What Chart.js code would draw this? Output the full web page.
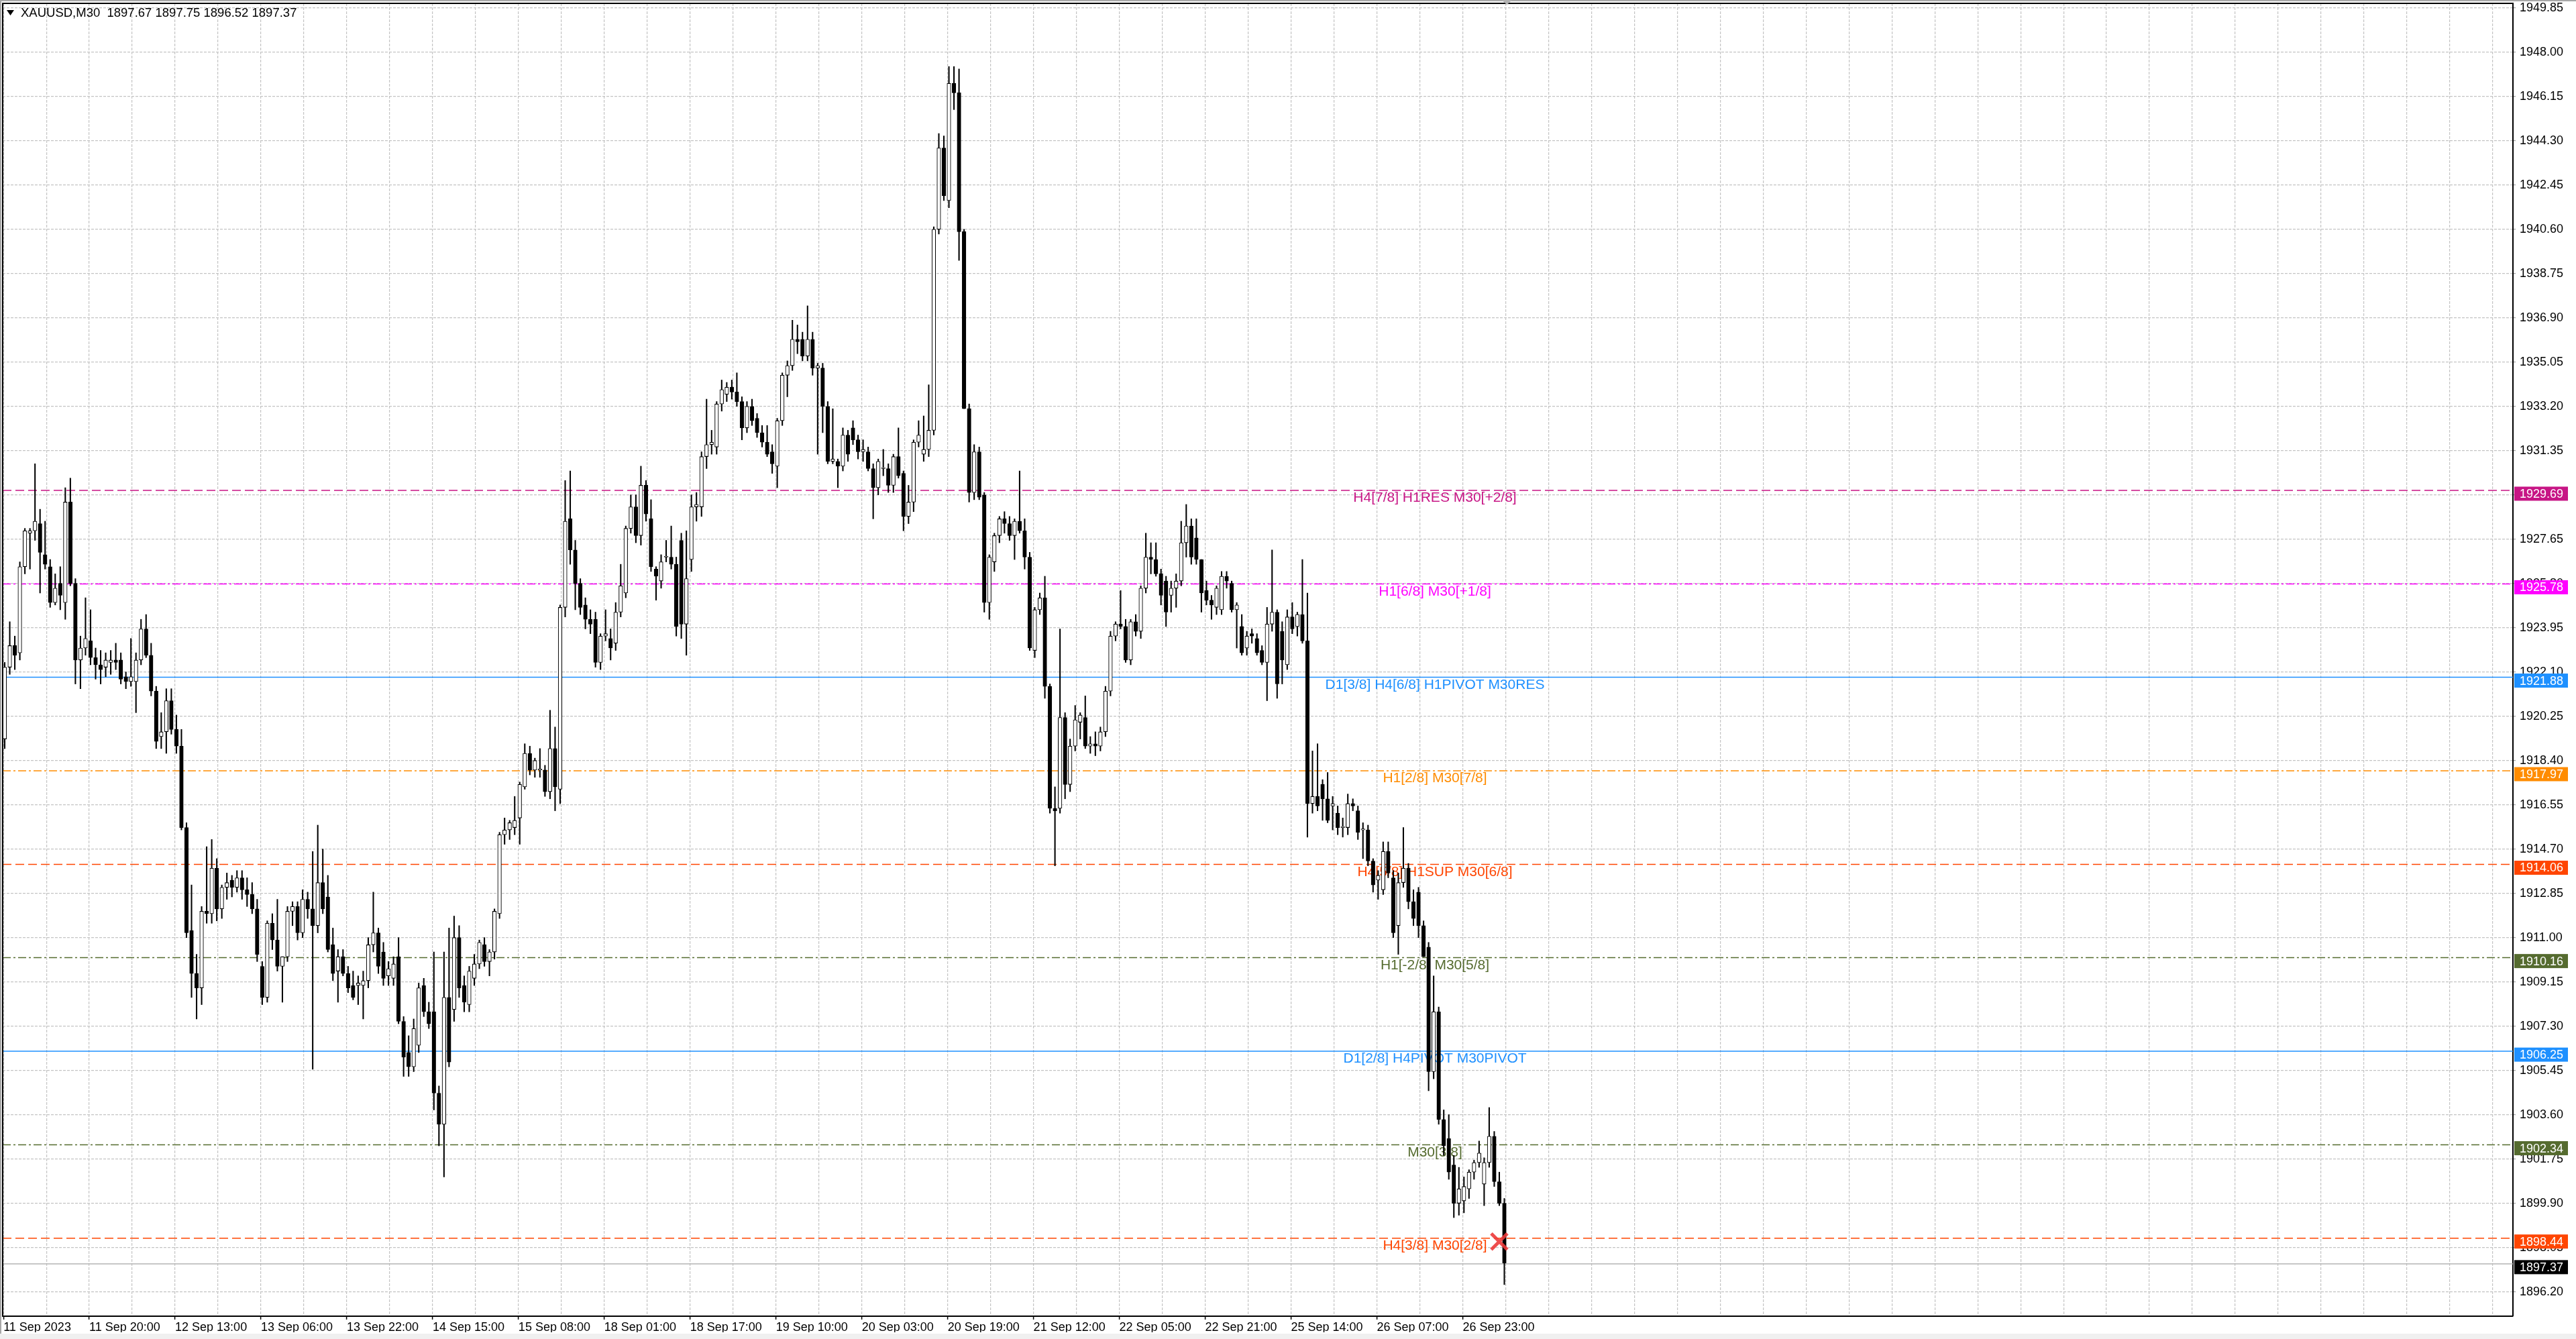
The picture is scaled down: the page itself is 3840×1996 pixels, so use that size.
<!DOCTYPE html>
<html>
<head>
<meta charset="utf-8">
<title>XAUUSD,M30</title>
<script src="https://cdn.jsdelivr.net/npm/chart.js@4.4.1/dist/chart.umd.min.js"></script>
<style>
  html, body { margin: 0; padding: 0; background: #fff; }
  #wrap { position: relative; width: 3840px; height: 1996px; }
</style>
</head>
<body>
<div id="wrap"><canvas id="chart"></canvas></div>
<script>
// XAUUSD M30 chart, candles read off the screenshot and grouped per hour
// (each candle covers two M30 slots on the time axis)

const opens = [
  1919.3,1922.3,1923.2,1922.9,1926.5,1927.9,1928.0,1928.3,1927.0,1926.5,
  1925.0,1925.8,1925.0,1929.2,1925.8,1922.6,1923.1,1923.4,1922.7,1922.4,
  1922.3,1922.5,1922.6,1922.6,1921.9,1921.7,1921.7,1922.6,1923.9,1922.8,
  1921.3,1919.4,1919.6,1920.9,1919.7,1919.0,1915.6,1911.3,1909.5,1908.9,
  1912.1,1912.0,1913.9,1912.2,1913.1,1913.4,1913.1,1913.5,1913.0,1912.8,
  1912.2,1909.8,1908.5,1911.6,1910.9,1909.8,1910.2,1912.1,1912.3,1911.2,
  1912.6,1912.2,1911.5,1913.3,1912.7,1910.7,1909.6,1910.2,1909.5,1909.0,
  1909.0,1909.0,1909.2,1910.7,1911.2,1910.4,1909.4,1909.3,1910.2,1907.5,
  1906.2,1905.6,1906.5,1909.0,1907.9,1907.9,1904.5,1903.2,1908.5,1908.0,
  1911.0,1909.0,1908.2,1909.3,1909.9,1910.7,1910.0,1910.4,1912.0,1915.3,
  1915.5,1915.6,1916.0,1917.3,1918.7,1918.0,1918.0,1918.0,1917.1,1918.9,
  1917.2,1924.8,1928.5,1927.2,1925.8,1924.9,1924.3,1924.3,1922.5,1923.6,
  1923.5,1923.3,1924.6,1925.4,1928.1,1929.0,1927.8,1929.9,1928.5,1926.4,
  1925.9,1926.9,1926.9,1926.6,1927.6,1924.1,1926.8,1929.0,1929.0,1931.1,
  1931.6,1931.5,1933.3,1933.7,1934.0,1933.8,1933.4,1932.3,1933.2,1932.7,
  1932.1,1931.7,1931.3,1930.7,1932.6,1934.5,1934.9,1936.0,1936.0,1935.3,
  1936.0,1934.8,1934.8,1933.2,1930.9,1930.9,1930.7,1932.0,1932.3,1931.8,
  1931.3,1931.3,1930.6,1929.8,1930.6,1930.6,1929.9,1931.1,1930.4,1928.6,
  1929.2,1931.7,1931.2,1931.4,1932.2,1940.6,1944.0,1941.8,1946.7,1946.3,
  1940.5,1933.1,1929.6,1931.3,1929.5,1925.0,1926.7,1927.8,1928.5,1928.3,
  1927.8,1928.4,1928.0,1926.9,1923.0,1924.7,1925.2,1921.5,1916.4,1916.4,
  1920.2,1917.4,1919.0,1920.0,1920.2,1919.0,1919.1,1919.0,1919.6,1921.3,
  1923.6,1924.1,1924.0,1922.6,1924.2,1923.8,1925.6,1926.9,1926.8,1926.2,
  1925.9,1925.3,1925.6,1925.9,1927.5,1928.2,1927.7,1926.8,1925.5,1925.1,
  1924.8,1924.7,1926.1,1925.8,1924.7,1924.0,1923.1,1923.7,1923.5,1923.0,
  1922.5,1924.1,1924.6,1923.8,1922.4,1924.4,1924.0,1924.5,1923.4,1916.6,
  1916.9,1917.4,1916.8,1916.5,1916.2,1915.6,1915.6,1916.6,1916.3,1915.5,
  1915.5,1914.2,1913.4,1913.0,1914.6,1913.5,1911.5,1913.3,1913.9,1912.5,
  1912.9,1911.5,1910.6,1905.4,1907.9,1903.4,1902.6,1901.5,1899.9,1900.0,
  1900.5,1901.2,1901.6,1900.7,1901.6,1902.7,1900.8,1899.9
];

const highs = [
  1922.5,1924.2,1923.6,1926.7,1928.1,1928.1,1930.8,1928.9,1928.4,1926.8,
  1926.2,1926.5,1929.8,1930.2,1926.0,1923.6,1925.2,1924.7,1923.1,1923.0,
  1922.9,1923.0,1923.3,1922.9,1922.1,1923.5,1922.9,1924.3,1924.5,1923.3,
  1921.5,1920.4,1921.4,1921.4,1920.3,1919.7,1915.8,1913.2,1910.3,1912.3,
  1914.8,1915.1,1914.3,1913.2,1913.7,1913.6,1913.8,1913.8,1913.5,1913.3,
  1912.6,1910.0,1911.7,1912.0,1912.6,1910.2,1912.3,1912.5,1912.5,1913.0,
  1912.9,1914.6,1915.7,1914.7,1913.6,1911.4,1910.5,1910.5,1909.8,1909.6,
  1909.4,1909.6,1911.0,1912.9,1911.4,1910.8,1910.0,1910.2,1911.0,1907.7,
  1906.9,1907.6,1909.1,1909.3,1908.3,1910.4,1904.8,1910.4,1911.4,1911.9,
  1911.5,1909.4,1909.8,1910.3,1910.9,1911.0,1910.5,1912.2,1915.4,1916.0,
  1915.9,1916.9,1917.5,1919.1,1919.0,1918.5,1918.9,1918.2,1920.5,1919.8,
  1924.9,1930.1,1930.5,1927.6,1926.0,1925.2,1924.7,1924.6,1923.7,1924.7,
  1923.9,1925.0,1926.6,1928.2,1929.5,1929.5,1930.7,1930.1,1929.3,1926.5,
  1927.0,1927.6,1928.2,1926.9,1927.9,1928.0,1929.5,1929.6,1931.3,1933.5,
  1932.2,1933.4,1934.3,1934.2,1934.3,1934.6,1933.6,1933.4,1933.5,1932.9,
  1932.4,1932.4,1931.6,1932.7,1934.6,1935.1,1936.8,1936.6,1936.3,1937.4,
  1936.3,1935.0,1935.0,1933.4,1933.1,1931.0,1932.3,1932.2,1932.6,1932.0,
  1931.8,1931.5,1930.8,1931.0,1931.4,1930.8,1931.2,1932.3,1930.5,1929.9,
  1931.8,1932.6,1932.8,1934.1,1940.7,1944.6,1944.5,1947.4,1947.4,1947.3,
  1940.6,1933.3,1931.6,1931.5,1929.6,1927.0,1927.9,1928.6,1928.8,1928.6,
  1928.5,1930.5,1928.5,1927.1,1924.8,1925.4,1926.1,1921.6,1917.3,1923.9,
  1920.4,1919.3,1920.7,1920.4,1921.1,1919.4,1919.6,1919.8,1921.5,1923.8,
  1924.2,1925.5,1924.3,1924.3,1924.5,1925.7,1927.9,1927.5,1927.5,1926.4,
  1926.1,1925.9,1926.2,1928.4,1929.1,1928.5,1928.5,1926.8,1925.9,1925.3,
  1925.7,1926.3,1926.3,1925.9,1925.0,1924.5,1923.8,1923.9,1923.7,1923.2,
  1924.8,1927.2,1924.7,1924.2,1924.7,1925.0,1924.6,1926.8,1925.4,1918.8,
  1919.1,1917.6,1917.9,1916.9,1916.5,1916.0,1917.0,1916.8,1916.5,1915.8,
  1915.7,1914.3,1913.8,1915.0,1915.0,1913.8,1913.7,1915.6,1914.1,1913.0,
  1913.1,1911.7,1910.8,1909.4,1908.1,1903.8,1903.6,1901.9,1901.4,1901.0,
  1901.3,1901.7,1902.5,1901.8,1903.9,1902.9,1901.2,1900.1
];

const lows = [
  1918.9,1922.0,1922.2,1922.6,1926.2,1926.4,1927.6,1925.4,1926.4,1924.8,
  1924.9,1924.7,1924.3,1925.7,1921.6,1921.4,1922.8,1922.4,1921.8,1921.6,
  1921.9,1922.0,1922.2,1921.6,1921.4,1921.5,1920.4,1922.4,1922.7,1921.1,
  1918.9,1918.9,1918.7,1919.5,1918.7,1915.5,1911.0,1908.5,1907.6,1908.2,
  1911.6,1911.6,1911.7,1911.8,1912.6,1912.7,1912.9,1912.6,1912.3,1912.0,
  1910.0,1908.2,1908.3,1910.5,1909.6,1908.3,1910.0,1911.5,1910.9,1911.0,
  1911.8,1905.5,1911.2,1912.0,1910.4,1909.2,1908.3,1909.4,1908.7,1908.4,
  1908.2,1907.6,1908.9,1910.4,1909.5,1909.0,1909.0,1909.0,1907.4,1905.2,
  1905.2,1905.4,1906.2,1907.7,1907.2,1903.8,1902.3,1901.0,1905.6,1907.5,
  1908.5,1907.9,1907.9,1909.0,1909.7,1909.8,1909.4,1910.1,1911.8,1914.9,
  1915.1,1915.3,1914.9,1917.2,1917.8,1917.7,1917.7,1916.9,1916.8,1916.3,
  1916.6,1924.4,1926.6,1924.7,1924.5,1923.9,1923.7,1922.3,1922.2,1923.4,
  1922.6,1923.0,1924.4,1925.2,1927.9,1927.5,1927.4,1928.4,1926.3,1925.1,
  1925.6,1926.7,1926.4,1923.6,1923.5,1922.8,1926.3,1928.4,1928.6,1930.6,
  1931.2,1931.2,1933.0,1933.4,1933.5,1933.2,1931.8,1932.1,1932.4,1931.9,
  1931.5,1931.1,1930.4,1929.8,1932.4,1933.6,1934.7,1935.4,1935.1,1935.1,
  1934.5,1931.2,1932.1,1930.8,1930.8,1929.8,1930.5,1930.9,1931.6,1931.0,
  1930.9,1930.5,1928.5,1929.5,1930.3,1929.6,1929.6,1930.2,1928.0,1928.3,
  1928.8,1931.5,1930.9,1931.1,1932.0,1940.4,1941.8,1941.5,1945.6,1939.3,
  1933.1,1929.2,1929.3,1929.3,1924.6,1924.3,1926.3,1927.5,1927.9,1927.6,
  1926.8,1927.9,1926.4,1923.0,1922.7,1924.5,1921.0,1916.2,1914.0,1916.2,
  1916.8,1917.1,1918.8,1919.3,1918.9,1918.7,1918.6,1918.8,1919.4,1921.1,
  1923.4,1923.9,1922.5,1922.4,1923.6,1923.5,1925.4,1926.2,1926.1,1924.9,
  1924.0,1924.6,1924.8,1925.7,1926.9,1926.6,1926.6,1924.6,1924.9,1924.3,
  1924.5,1924.5,1925.6,1924.6,1923.1,1922.8,1922.8,1923.3,1922.8,1922.4,
  1920.9,1923.8,1921.0,1921.6,1922.2,1923.7,1923.6,1923.3,1915.2,1916.2,
  1916.3,1915.9,1915.8,1915.5,1915.3,1915.2,1915.3,1916.3,1915.1,1914.3,
  1914.0,1912.9,1912.6,1912.8,1913.5,1911.0,1910.3,1913.1,1912.2,1911.5,
  1911.0,1910.2,1904.6,1905.1,1903.2,1901.9,1900.9,1899.3,1899.4,1899.5,
  1900.1,1900.9,1901.4,1899.8,1901.4,1900.6,1899.8,1896.5
];

const closes = [
  1922.3,1923.2,1922.8,1926.5,1928.0,1928.0,1928.4,1927.1,1926.6,1925.0,
  1925.6,1925.3,1929.2,1925.8,1922.6,1923.1,1923.5,1922.7,1922.4,1922.2,
  1922.6,1922.6,1922.5,1921.8,1921.7,1921.9,1922.6,1923.9,1922.8,1921.3,
  1919.2,1919.6,1920.9,1919.7,1919.0,1915.6,1911.2,1909.5,1908.9,1912.1,
  1912.0,1913.9,1912.2,1913.1,1913.3,1913.1,1913.5,1913.0,1912.8,1912.2,
  1910.3,1908.5,1911.6,1910.9,1909.8,1910.2,1912.1,1912.3,1911.2,1912.6,
  1912.2,1911.5,1913.3,1912.2,1910.5,1909.5,1910.2,1909.5,1908.9,1908.5,
  1909.1,1909.2,1910.7,1911.2,1909.8,1909.3,1909.7,1909.9,1907.5,1906.0,
  1905.6,1907.2,1908.9,1907.9,1907.4,1904.5,1903.2,1908.5,1905.8,1911.0,
  1908.9,1908.3,1909.6,1909.9,1910.8,1910.0,1910.4,1912.1,1915.3,1915.5,
  1915.8,1915.9,1917.4,1918.7,1918.0,1918.4,1918.0,1917.1,1918.9,1917.3,
  1924.8,1928.4,1927.2,1925.8,1924.8,1924.3,1924.1,1922.5,1923.6,1923.7,
  1923.1,1924.6,1925.7,1928.1,1929.0,1927.8,1929.9,1928.7,1926.5,1926.1,
  1926.7,1926.9,1926.6,1924.0,1924.1,1926.0,1929.0,1929.1,1931.1,1931.6,
  1931.7,1933.3,1933.9,1934.0,1933.8,1933.4,1932.3,1933.2,1932.6,1932.1,
  1931.7,1931.2,1930.8,1932.6,1934.5,1934.9,1936.0,1935.9,1935.3,1936.0,
  1934.8,1934.9,1933.2,1930.9,1931.0,1930.7,1932.0,1931.2,1931.8,1931.3,
  1931.4,1930.6,1929.8,1930.9,1930.6,1929.9,1931.1,1930.3,1928.6,1929.2,
  1931.7,1932.0,1931.4,1932.2,1940.6,1944.0,1942.0,1946.7,1946.3,1940.5,
  1933.1,1929.6,1931.3,1929.4,1925.0,1926.9,1927.8,1928.5,1928.3,1927.8,
  1928.4,1928.0,1926.9,1923.1,1924.7,1925.2,1921.5,1916.4,1916.3,1920.2,
  1917.4,1919.0,1920.1,1920.3,1919.0,1919.1,1919.0,1919.6,1921.3,1923.6,
  1924.1,1924.0,1922.6,1924.2,1923.8,1925.6,1926.9,1926.8,1926.2,1925.3,
  1924.6,1925.6,1925.9,1927.5,1928.2,1926.9,1926.8,1925.4,1925.1,1924.9,
  1925.6,1926.1,1925.9,1924.7,1924.9,1922.9,1923.6,1923.6,1922.9,1922.5,
  1924.1,1924.6,1921.6,1922.6,1924.4,1923.9,1924.5,1923.4,1916.6,1916.9,
  1916.5,1916.8,1915.9,1916.6,1915.6,1915.6,1916.6,1916.5,1915.4,1915.5,
  1914.2,1913.2,1913.6,1914.6,1913.7,1911.2,1913.3,1913.9,1912.5,1911.8,
  1911.5,1910.2,1905.4,1907.9,1903.4,1902.3,1901.2,1899.9,1900.5,1900.6,
  1901.2,1901.6,1902.0,1901.6,1902.7,1900.8,1899.9,1897.4
];

// time axis: one label every 34 M30 bars
const timeLabels = [
  '11 Sep 2023', '11 Sep 20:00', '12 Sep 13:00', '13 Sep 06:00', '13 Sep 22:00',
  '14 Sep 15:00', '15 Sep 08:00', '18 Sep 01:00', '18 Sep 17:00', '19 Sep 10:00',
  '20 Sep 03:00', '20 Sep 19:00', '21 Sep 12:00', '22 Sep 05:00', '22 Sep 21:00',
  '25 Sep 14:00', '26 Sep 07:00', '26 Sep 23:00'
];

// price axis ticks
const priceTicks = [
  1949.85, 1948.00, 1946.15, 1944.30, 1942.45, 1940.60, 1938.75, 1936.90, 1935.05, 1933.20,
  1931.35, 1929.50, 1927.65, 1925.80, 1923.95, 1922.10, 1920.25, 1918.40, 1916.55, 1914.70,
  1912.85, 1911.00, 1909.15, 1907.30, 1905.45, 1903.60, 1901.75, 1899.90, 1898.05, 1896.20
];

// Murrey math levels drawn as horizontal lines
const levelPrices = [1929.69, 1925.78, 1921.88, 1917.97, 1914.06, 1910.16, 1906.25, 1902.34, 1898.44];
const levelNames = [
  'H4[7/8] H1RES M30[+2/8]',
  'H1[6/8] M30[+1/8]',
  'D1[3/8] H4[6/8] H1PIVOT M30RES',
  'H1[2/8] M30[7/8]',
  'H4[5/8] H1SUP M30[6/8]',
  'H1[-2/8] M30[5/8]',
  'D1[2/8] H4PIVOT M30PIVOT',
  'M30[3/8]',
  'H4[3/8] M30[2/8]'
];
const levelColors = ['#C71585', '#FF00FF', '#1E90FF', '#FF8C00', '#FF4500', '#556B2F', '#1E90FF', '#556B2F', '#FF4500'];
const levelStyles = ['dash', 'dashdot', 'solid', 'dashdot', 'dash', 'dashdot', 'solid', 'dashdot', 'dash'];

const lastPrice = 1897.37;
const headerText = 'XAUUSD,M30  1897.67 1897.75 1896.52 1897.37';

// sell mark near the last bar
const signalBars = [592.5];
const signalPrices = [1898.3];

// axis range in M30 bar units
const X_MIN = -0.3;
const X_MAX = 994;
const LABEL_BAR = 567;
const FONT = '"Liberation Sans", Arial, sans-serif';

Chart.defaults.font.family = FONT;

const candleX = opens.map((_, k) => 2 * k + 0.5);
const wickData = candleX.map((x, k) => ({ x: x, y: [lows[k], highs[k]] }));
const bodyData = candleX.map((x, k) => ({ x: x, y: [Math.min(opens[k], closes[k]), Math.max(opens[k], closes[k])] }));
const bodyFill = opens.map((o, k) => closes[k] >= o ? '#ffffff' : '#000000');

const dashes = { dash: [13, 6], dashdot: [12, 4, 3, 4], solid: [] };

const levelSets = levelPrices.map((p, i) => ({
  type: 'line',
  data: [{ x: X_MIN, y: p }, { x: X_MAX, y: p }],
  borderColor: levelColors[i],
  borderWidth: 1.5,
  borderDash: dashes[levelStyles[i]],
  pointRadius: 0,
  order: 10
}));

// overlay: captions, price tags, header and frame
const mtOverlay = {
  id: 'mtOverlay',
  beforeDraw(chart) {
    const ctx = chart.ctx;
    ctx.save();
    ctx.fillStyle = '#ffffff';
    ctx.fillRect(0, 0, chart.width, chart.height);
    ctx.restore();
  },
  beforeDatasetsDraw(chart) {
    const { ctx, scales: { x, y } } = chart;
    ctx.save();
    ctx.font = '21px ' + FONT;
    ctx.textAlign = 'center';
    ctx.textBaseline = 'top';
    levelPrices.forEach((p, i) => {
      ctx.fillStyle = levelColors[i];
      ctx.fillText(levelNames[i], x.getPixelForValue(LABEL_BAR), y.getPixelForValue(p) + 1);
    });
    ctx.restore();
  },
  afterDraw(chart) {
    const { ctx, chartArea: a, scales: { x, y } } = chart;
    ctx.save();

    // outer window edges
    ctx.fillStyle = '#a8a8a8';
    ctx.fillRect(0, 0, chart.width, 2);
    ctx.fillRect(0, 0, 2, chart.height);
    ctx.fillStyle = '#f0f0f0';
    ctx.fillRect(0, chart.height - 8, chart.width, 8);

    // left and top frame of the plot
    ctx.strokeStyle = '#000';
    ctx.lineWidth = 2;
    ctx.beginPath();
    ctx.moveTo(a.left, a.bottom);
    ctx.lineTo(a.left, a.top);
    ctx.lineTo(a.right, a.top);
    ctx.stroke();

    // chart shift marker
    const sx = x.getPixelForValue(2 * closes.length - 0.5);
    ctx.fillStyle = '#b0b0b0';
    ctx.beginPath();
    ctx.moveTo(sx - 8, 0);
    ctx.lineTo(sx + 8, 0);
    ctx.lineTo(sx, 7);
    ctx.closePath();
    ctx.fill();

    // price tags on the right axis, sitting a little below their line
    ctx.font = '18px ' + FONT;
    ctx.textAlign = 'left';
    ctx.textBaseline = 'middle';
    const tag = (price, bg) => {
      const py = y.getPixelForValue(price) + 5;
      ctx.fillStyle = bg;
      ctx.fillRect(a.right + 2, py - 10.5, 80, 21);
      ctx.fillStyle = '#ffffff';
      ctx.fillText(price.toFixed(2), a.right + 10, py + 1);
    };
    levelPrices.forEach((p, i) => tag(p, levelColors[i]));
    tag(lastPrice, '#000000');

    // header
    ctx.fillStyle = '#000';
    ctx.beginPath();
    ctx.moveTo(10, 15);
    ctx.lineTo(21, 15);
    ctx.lineTo(15.5, 23);
    ctx.closePath();
    ctx.fill();
    ctx.font = '18.5px ' + FONT;
    ctx.textBaseline = 'middle';
    ctx.fillText(headerText, 31, 20);

    ctx.restore();
  }
};

new Chart(document.getElementById('chart'), {
  type: 'bar',
  data: {
    datasets: [
      {
        type: 'scatter',
        data: signalBars.map((b, i) => ({ x: b, y: signalPrices[i] })),
        pointStyle: 'crossRot',
        pointRadius: 17,
        pointBorderWidth: 5,
        borderColor: 'rgba(236, 58, 58, 0.9)',
        backgroundColor: 'rgba(236, 58, 58, 0.9)',
        order: 0
      },
      {
        data: bodyData,
        backgroundColor: bodyFill,
        borderColor: '#000000',
        borderWidth: 1.1,
        borderSkipped: false,
        barThickness: 5.6,
        minBarLength: 1.5,
        grouped: false,
        order: 1
      },
      {
        data: wickData,
        backgroundColor: '#000000',
        borderWidth: 0,
        barThickness: 1.4,
        grouped: false,
        order: 2
      },
      {
        type: 'line',
        data: [{ x: X_MIN, y: lastPrice }, { x: X_MAX, y: lastPrice }],
        borderColor: '#b4b4b4',
        borderWidth: 1.5,
        pointRadius: 0,
        order: 9
      },
      ...levelSets
    ]
  },
  options: {
    responsive: true,
    maintainAspectRatio: false,
    devicePixelRatio: 1,
    animation: false,
    layout: { autoPadding: false, padding: { left: 4, top: 5, right: 0, bottom: 10 } },
    plugins: {
      legend: { display: false },
      tooltip: { enabled: false }
    },
    scales: {
      x: {
        type: 'linear',
        position: 'bottom',
        min: X_MIN,
        max: X_MAX,
        offset: false,
        afterBuildTicks(scale) {
          const t = [];
          for (let b = 0; b <= X_MAX; b += 17) t.push({ value: b });
          scale.ticks = t;
        },
        afterFit(scale) {
          scale.height = 24;
          scale.paddingLeft = 0;
          scale.paddingRight = 0;
        },
        ticks: {
          autoSkip: false,
          maxRotation: 0,
          minRotation: 0,
          align: 'start',
          padding: 1,
          color: '#000',
          font: { size: 18 },
          callback(v) {
            return (v % 34 === 0 && v / 34 < timeLabels.length) ? timeLabels[v / 34] : '';
          }
        },
        grid: {
          offset: false,
          color: '#c4c4c4',
          lineWidth: 1.2,
          tickLength: 5,
          tickWidth: 1.5,
          tickColor(ctx) {
            return ctx.tick && ctx.tick.label ? '#000' : 'rgba(0,0,0,0)';
          }
        },
        border: { display: true, color: '#000', width: 2, dash: [4, 2] }
      },
      y: {
        type: 'linear',
        position: 'right',
        min: 1895.18,
        max: 1950.04,
        afterBuildTicks(scale) {
          scale.ticks = priceTicks.map(v => ({ value: v }));
        },
        afterFit(scale) {
          scale.width = 94;
          scale.paddingTop = 0;
          scale.paddingBottom = 0;
        },
        ticks: {
          autoSkip: false,
          padding: 6,
          color: '#000',
          font: { size: 18 },
          callback(v) { return Number(v).toFixed(2); }
        },
        grid: {
          color: '#c4c4c4',
          lineWidth: 1.2,
          tickLength: 4,
          tickColor: '#9a9a9a'
        },
        border: { display: true, color: '#000', width: 2, dash: [4, 2] }
      }
    }
  },
  plugins: [mtOverlay]
});
</script>
</body>
</html>
